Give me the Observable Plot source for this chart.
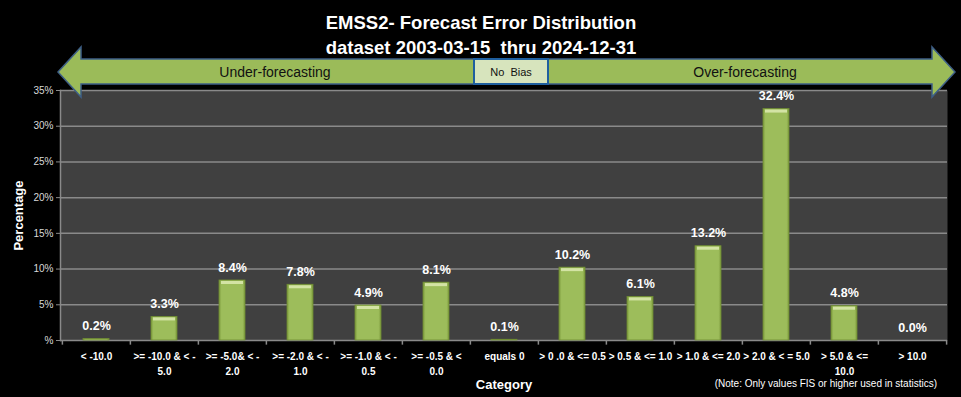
<!DOCTYPE html>
<html>
<head>
<meta charset="utf-8">
<script src="https://cdn.jsdelivr.net/npm/d3@7"></script>
<script src="https://cdn.jsdelivr.net/npm/@observablehq/plot@0.6"></script>
<style>
  html, body { margin: 0; padding: 0; background: #000; }
  #wrap { position: relative; width: 961px; height: 397px; overflow: hidden; background: #000; }
  #wrap svg.plot { position: absolute; left: 0; top: 0; }
  #overlay { position: absolute; left: 0; top: 0; pointer-events: none; }
</style>
</head>
<body>
<div id="wrap"></div>
<script>
const titleLines = ["EMSS2- Forecast Error Distribution", "dataset 2003-03-15  thru 2024-12-31"];
const categories = ["< -10.0", ">= -10.0 & < -5.0", ">= -5.0& < -2.0", ">= -2.0 & < -1.0", ">= -1.0 & < -0.5",
  ">= -0.5 & < 0.0", "equals 0", "> 0 .0 & <= 0.5", "> 0.5 & <= 1.0", "> 1.0 & <= 2.0", "> 2.0 & < = 5.0",
  "> 5.0 & <= 10.0", "> 10.0"];
const tickLabels = ["< -10.0", ">= -10.0 & < -\n5.0", ">= -5.0& < -\n2.0", ">= -2.0 & < -\n1.0", ">= -1.0 & < -\n0.5",
  ">= -0.5 & <\n0.0", "equals 0", "> 0 .0 & <= 0.5", "> 0.5 & <= 1.0", "> 1.0 & <= 2.0", "> 2.0 & < = 5.0",
  "> 5.0 & <=\n10.0", "> 10.0"];
const percentages = [0.2, 3.3, 8.4, 7.8, 4.9, 8.1, 0.1, 10.2, 6.1, 13.2, 32.4, 4.8, 0.0];
const yTicks = [0, 5, 10, 15, 20, 25, 30, 35];
const bandLabels = ["Under-forecasting", "No  Bias", "Over-forecasting"];
const noteText = "(Note: Only values FIS or higher used in statistics)";

const data = categories.map((c, i) => ({category: c, value: percentages[i], label: tickLabels[i]}));
const labelOf = new Map(data.map(d => [d.category, d.label]));

const W = 961, H = 397, mL = 60, mR = 14, mT = 90, mB = 57;
const step = (W - mL - mR) / categories.length;
const font = "Liberation Sans, Arial, sans-serif";
const titleFont = "Liberation Sans Narrow, Arial Narrow, Liberation Sans, sans-serif";

const plot = Plot.plot({
  width: W, height: H,
  marginLeft: mL, marginRight: mR, marginTop: mT, marginBottom: mB,
  style: {background: "transparent", fontFamily: font, color: "#d9d9d9"},
  x: {domain: categories, paddingInner: 0.62, paddingOuter: 0.31},
  y: {domain: [0, 35], ticks: yTicks},
  marks: [
    Plot.frame({fill: "#404040", stroke: null}),
    Plot.gridY(yTicks.filter(t => t > 0), {stroke: "#8a8a8a", strokeOpacity: 1, strokeWidth: 1.5}),
    Plot.ruleY([0], {stroke: "#8a8a8a", strokeWidth: 1.5}),
    Plot.frame({anchor: "left", stroke: "#8a8a8a", strokeWidth: 1.5}),
    Plot.ruleX(categories, {x: d => d, dx: -step / 2, y1: 0, y2: -0.65, stroke: "#8a8a8a", strokeWidth: 1.5}),
    Plot.ruleX(categories.slice(-1), {x: d => d, dx: step / 2, y1: 0, y2: -0.65, stroke: "#8a8a8a", strokeWidth: 1.5}),
    Plot.barY(data, {x: "category", y: "value", fill: "url(#barGrad)", stroke: "#6f8c32", strokeWidth: 0.8}),
    Plot.tickY(data.filter(d => d.value > 1), {x: "category", y: "value", dy: 2, stroke: "#d3e3a4", strokeWidth: 3, inset: 2}),
    Plot.text(data, {x: "category", y: "value", text: d => d.value.toFixed(1) + "%", dy: -13,
      fill: "#ffffff", fontWeight: "bold", fontSize: 12.5, fontFamily: font}),
    Plot.axisY({ticks: yTicks, tickFormat: d => d === 0 ? "%" : d + "%", tickSize: 4, tickPadding: 3,
      stroke: "#8a8a8a", fill: "#d9d9d9", fontSize: 10, fontFamily: font,
      label: "Percentage", labelAnchor: "center", labelArrow: "none", labelOffset: 47}),
    Plot.axisX({tickSize: 0, tickPadding: 8, tickFormat: d => labelOf.get(d), fill: "#ffffff", fontWeight: "bold",
      fontSize: 10, lineHeight: 1.55, fontFamily: font,
      label: "Category", labelAnchor: "center", labelArrow: "none", labelOffset: 48})
  ]
});
plot.classList.add("plot");

// gradient for bevelled bars
const ns = "http://www.w3.org/2000/svg";
const defs = document.createElementNS(ns, "defs");
defs.innerHTML = `<linearGradient id="barGrad" x1="0" x2="1" y1="0" y2="0">
  <stop offset="0" stop-color="#7f9d3f"/><stop offset="0.1" stop-color="#9dbd5b"/>
  <stop offset="0.9" stop-color="#9dbd5b"/><stop offset="1" stop-color="#7f9d3f"/></linearGradient>`;
plot.insertBefore(defs, plot.firstChild);

// axis labels styling
plot.querySelectorAll("[aria-label='y-axis label'] text, [aria-label='x-axis label'] text").forEach(t => {
  t.setAttribute("fill", "#ffffff"); t.setAttribute("font-weight", "bold"); t.setAttribute("font-size", "13");
  t.setAttribute("font-family", font);
});

const wrap = document.getElementById("wrap");
wrap.appendChild(plot);

// overlay: title, arrow banner, note
const ov = document.createElementNS(ns, "svg");
ov.setAttribute("id", "overlay");
ov.setAttribute("width", W); ov.setAttribute("height", H);
const arrowPts = [[58,72],[81,47],[81,59],[932,59],[932,47],[955,72],[932,97],[932,84],[81,84],[81,97]];
ov.innerHTML = `
  <text x="481" y="29" text-anchor="middle" fill="#fff" font-weight="bold" font-size="18.5" font-family="${titleFont}">${titleLines[0]}</text>
  <text x="481" y="54" text-anchor="middle" fill="#fff" font-weight="bold" font-size="18.5" font-family="${titleFont}" xml:space="preserve">${titleLines[1]}</text>
  <polygon points="${arrowPts.map(p => p.join(",")).join(" ")}" fill="#9bbb59" stroke="#3e5f86" stroke-width="1.5"/>
  <rect x="474" y="59" width="74" height="25" fill="#d7e4bd" stroke="#1f5f9f" stroke-width="2"/>
  <text x="275" y="77" text-anchor="middle" fill="#111" font-size="14" font-family="${titleFont}">${bandLabels[0]}</text>
  <text x="511" y="76" text-anchor="middle" fill="#111" font-size="11" font-family="${titleFont}" xml:space="preserve">${bandLabels[1]}</text>
  <text x="745" y="77" text-anchor="middle" fill="#111" font-size="14" font-family="${titleFont}">${bandLabels[2]}</text>
  <text x="937" y="387" text-anchor="end" fill="#fff" font-size="10" font-family="${font}">${noteText}</text>
`;
wrap.appendChild(ov);
</script>
</body>
</html>
